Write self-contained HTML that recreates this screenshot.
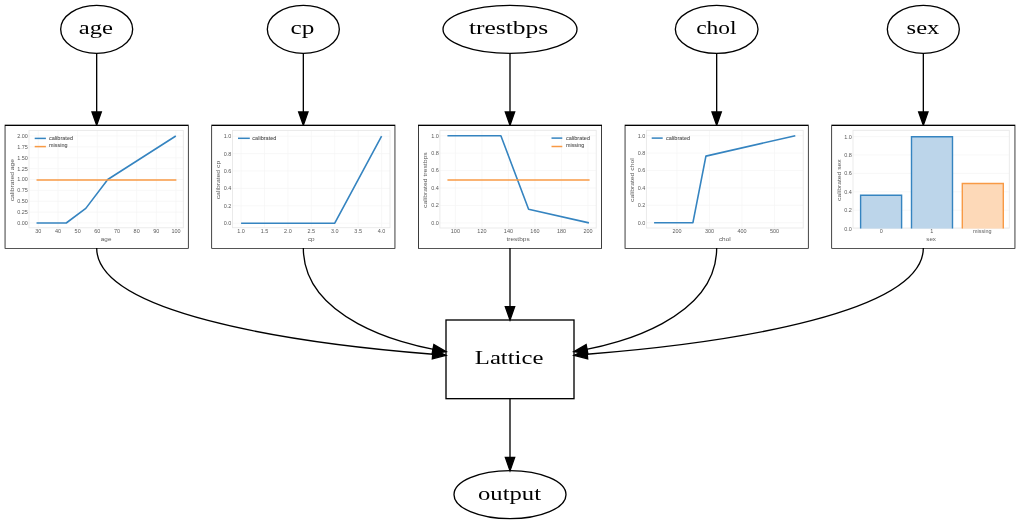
<!DOCTYPE html>
<html><head><meta charset="utf-8"><style>
html,body{margin:0;padding:0;background:#fff;}
svg{display:block;will-change:transform;}
text{font-family:"Liberation Serif",serif;}
.c text{font-family:"Liberation Sans",sans-serif;}
</style></head><body>
<svg width="1020" height="524" viewBox="0 0 1020 524">
<defs><filter id="bl" x="-5%" y="-5%" width="110%" height="110%"><feGaussianBlur stdDeviation="0.3"/></filter></defs>
<rect width="1020" height="524" fill="#fff"/>
<ellipse cx="96.67" cy="29.33" rx="36.00" ry="24.00" fill="none" stroke="#000" stroke-width="1.33"/>
<ellipse cx="303.33" cy="29.33" rx="36.00" ry="24.00" fill="none" stroke="#000" stroke-width="1.33"/>
<ellipse cx="510.00" cy="29.33" rx="67.00" ry="24.00" fill="none" stroke="#000" stroke-width="1.33"/>
<ellipse cx="716.67" cy="29.33" rx="41.33" ry="24.00" fill="none" stroke="#000" stroke-width="1.33"/>
<ellipse cx="923.33" cy="29.33" rx="36.00" ry="24.00" fill="none" stroke="#000" stroke-width="1.33"/>
<path d="M96.67,53.33L96.67,112.00" stroke="#000" stroke-width="1.33" fill="none"/><polygon points="92.00,112.00 96.67,125.33 101.33,112.00" fill="#000" stroke="#000" stroke-width="1.33"/>
<path d="M303.33,53.33L303.33,112.00" stroke="#000" stroke-width="1.33" fill="none"/><polygon points="298.67,112.00 303.33,125.33 308.00,112.00" fill="#000" stroke="#000" stroke-width="1.33"/>
<path d="M510.00,53.33L510.00,112.00" stroke="#000" stroke-width="1.33" fill="none"/><polygon points="505.33,112.00 510.00,125.33 514.67,112.00" fill="#000" stroke="#000" stroke-width="1.33"/>
<path d="M716.67,53.33L716.67,112.00" stroke="#000" stroke-width="1.33" fill="none"/><polygon points="712.00,112.00 716.67,125.33 721.33,112.00" fill="#000" stroke="#000" stroke-width="1.33"/>
<path d="M923.33,53.33L923.33,112.00" stroke="#000" stroke-width="1.33" fill="none"/><polygon points="918.67,112.00 923.33,125.33 928.00,112.00" fill="#000" stroke="#000" stroke-width="1.33"/>
<rect x="5.33" y="125.33" width="182.67" height="122.67" fill="none" stroke="#000" stroke-width="1.33"/>
<rect x="5.43" y="126.00" width="182.47" height="122.00" fill="#fff"/>
<rect x="212.00" y="125.33" width="182.67" height="122.67" fill="none" stroke="#000" stroke-width="1.33"/>
<rect x="212.10" y="126.00" width="182.47" height="122.00" fill="#fff"/>
<rect x="418.67" y="125.33" width="182.67" height="122.67" fill="none" stroke="#000" stroke-width="1.33"/>
<rect x="418.77" y="126.00" width="182.47" height="122.00" fill="#fff"/>
<rect x="625.33" y="125.33" width="182.67" height="122.67" fill="none" stroke="#000" stroke-width="1.33"/>
<rect x="625.43" y="126.00" width="182.47" height="122.00" fill="#fff"/>
<rect x="832.00" y="125.33" width="182.67" height="122.67" fill="none" stroke="#000" stroke-width="1.33"/>
<rect x="832.10" y="126.00" width="182.47" height="122.00" fill="#fff"/>
<rect x="446.00" y="320.00" width="128.00" height="78.67" fill="none" stroke="#000" stroke-width="1.33"/>
<path d="M510.00,248.00L510.00,306.67" stroke="#000" stroke-width="1.33" fill="none"/><polygon points="505.33,306.67 510.00,320.00 514.67,306.67" fill="#000" stroke="#000" stroke-width="1.33"/>
<path d="M510.00,398.67L510.00,457.33" stroke="#000" stroke-width="1.33" fill="none"/><polygon points="505.33,457.33 510.00,470.67 514.67,457.33" fill="#000" stroke="#000" stroke-width="1.33"/>
<ellipse cx="510" cy="494.67" rx="56.00" ry="24.00" fill="none" stroke="#000" stroke-width="1.33"/>
<path d="M96.67,248.00C96.67,311.43 281.23,342.23 433.20,354.23" stroke="#000" stroke-width="1.33" fill="none"/><polygon points="432.32,358.84 446.00,355.30 433.10,349.54" fill="#000" stroke="#000" stroke-width="1.33"/>
<path d="M303.33,248.00C303.33,319.44 405.15,344.30 433.60,349.32" stroke="#000" stroke-width="1.33" fill="none"/><polygon points="432.13,353.79 446.10,351.70 433.87,344.62" fill="#000" stroke="#000" stroke-width="1.33"/>
<path d="M716.67,248.00C716.67,319.44 614.85,344.30 586.40,349.32" stroke="#000" stroke-width="1.33" fill="none"/><polygon points="586.13,344.62 573.90,351.70 587.87,353.79" fill="#000" stroke="#000" stroke-width="1.33"/>
<path d="M923.33,248.00C923.33,311.43 738.77,342.23 586.80,354.23" stroke="#000" stroke-width="1.33" fill="none"/><polygon points="586.90,349.54 574.00,355.30 587.68,358.84" fill="#000" stroke="#000" stroke-width="1.33"/>
<text x="78.80" y="33.70" font-family="Liberation Serif" font-size="19.5" textLength="34.20" lengthAdjust="spacingAndGlyphs">age</text>
<text x="290.60" y="33.70" font-family="Liberation Serif" font-size="19.5" textLength="23.80" lengthAdjust="spacingAndGlyphs">cp</text>
<text x="469.00" y="33.70" font-family="Liberation Serif" font-size="19.5" textLength="79.20" lengthAdjust="spacingAndGlyphs">trestbps</text>
<text x="696.20" y="33.70" font-family="Liberation Serif" font-size="19.5" textLength="40.40" lengthAdjust="spacingAndGlyphs">chol</text>
<text x="906.60" y="33.70" font-family="Liberation Serif" font-size="19.5" textLength="32.80" lengthAdjust="spacingAndGlyphs">sex</text>
<text x="474.80" y="363.70" font-family="Liberation Serif" font-size="19.5" textLength="68.60" lengthAdjust="spacingAndGlyphs">Lattice</text>
<text x="478.00" y="500.10" font-family="Liberation Serif" font-size="19.5" textLength="63.00" lengthAdjust="spacingAndGlyphs">output</text>
<g class="c" filter="url(#bl)">
<line x1="38.30" y1="130.40" x2="38.30" y2="227.80" stroke="#f5f5f5" stroke-width="0.7"/>
<line x1="57.97" y1="130.40" x2="57.97" y2="227.80" stroke="#f5f5f5" stroke-width="0.7"/>
<line x1="77.64" y1="130.40" x2="77.64" y2="227.80" stroke="#f5f5f5" stroke-width="0.7"/>
<line x1="97.31" y1="130.40" x2="97.31" y2="227.80" stroke="#f5f5f5" stroke-width="0.7"/>
<line x1="116.99" y1="130.40" x2="116.99" y2="227.80" stroke="#f5f5f5" stroke-width="0.7"/>
<line x1="136.66" y1="130.40" x2="136.66" y2="227.80" stroke="#f5f5f5" stroke-width="0.7"/>
<line x1="156.33" y1="130.40" x2="156.33" y2="227.80" stroke="#f5f5f5" stroke-width="0.7"/>
<line x1="176.00" y1="130.40" x2="176.00" y2="227.80" stroke="#f5f5f5" stroke-width="0.7"/>
<line x1="29.00" y1="223.00" x2="183.30" y2="223.00" stroke="#f5f5f5" stroke-width="0.7"/>
<line x1="29.00" y1="212.12" x2="183.30" y2="212.12" stroke="#f5f5f5" stroke-width="0.7"/>
<line x1="29.00" y1="201.25" x2="183.30" y2="201.25" stroke="#f5f5f5" stroke-width="0.7"/>
<line x1="29.00" y1="190.38" x2="183.30" y2="190.38" stroke="#f5f5f5" stroke-width="0.7"/>
<line x1="29.00" y1="179.50" x2="183.30" y2="179.50" stroke="#f5f5f5" stroke-width="0.7"/>
<line x1="29.00" y1="168.62" x2="183.30" y2="168.62" stroke="#f5f5f5" stroke-width="0.7"/>
<line x1="29.00" y1="157.75" x2="183.30" y2="157.75" stroke="#f5f5f5" stroke-width="0.7"/>
<line x1="29.00" y1="146.88" x2="183.30" y2="146.88" stroke="#f5f5f5" stroke-width="0.7"/>
<line x1="29.00" y1="136.00" x2="183.30" y2="136.00" stroke="#f5f5f5" stroke-width="0.7"/>
<rect x="29.00" y="130.40" width="154.30" height="97.40" fill="none" stroke="#e8e8e8" stroke-width="0.9"/>
<polyline points="36.53,223.00 66.23,223.00 85.81,208.38 107.74,179.50 175.80,136.00" fill="none" stroke="#3584c0" stroke-width="1.6" stroke-linejoin="round"/>
<polyline points="36.53,179.94 176.39,179.94" fill="none" stroke="#f89a45" stroke-width="1.6" stroke-linejoin="round"/>
<text x="35.25" y="232.80" font-size="5.0" fill="#5a5a5a" textLength="6.11" lengthAdjust="spacingAndGlyphs">30</text>
<text x="54.92" y="232.80" font-size="5.0" fill="#5a5a5a" textLength="6.11" lengthAdjust="spacingAndGlyphs">40</text>
<text x="74.59" y="232.80" font-size="5.0" fill="#5a5a5a" textLength="6.11" lengthAdjust="spacingAndGlyphs">50</text>
<text x="94.26" y="232.80" font-size="5.0" fill="#5a5a5a" textLength="6.11" lengthAdjust="spacingAndGlyphs">60</text>
<text x="113.93" y="232.80" font-size="5.0" fill="#5a5a5a" textLength="6.11" lengthAdjust="spacingAndGlyphs">70</text>
<text x="133.60" y="232.80" font-size="5.0" fill="#5a5a5a" textLength="6.11" lengthAdjust="spacingAndGlyphs">80</text>
<text x="153.27" y="232.80" font-size="5.0" fill="#5a5a5a" textLength="6.11" lengthAdjust="spacingAndGlyphs">90</text>
<text x="171.42" y="232.80" font-size="5.0" fill="#5a5a5a" textLength="9.16" lengthAdjust="spacingAndGlyphs">100</text>
<text x="17.21" y="224.90" font-size="5.0" fill="#5a5a5a" textLength="10.69" lengthAdjust="spacingAndGlyphs">0.00</text>
<text x="17.21" y="214.03" font-size="5.0" fill="#5a5a5a" textLength="10.69" lengthAdjust="spacingAndGlyphs">0.25</text>
<text x="17.21" y="203.15" font-size="5.0" fill="#5a5a5a" textLength="10.69" lengthAdjust="spacingAndGlyphs">0.50</text>
<text x="17.21" y="192.28" font-size="5.0" fill="#5a5a5a" textLength="10.69" lengthAdjust="spacingAndGlyphs">0.75</text>
<text x="17.21" y="181.40" font-size="5.0" fill="#5a5a5a" textLength="10.69" lengthAdjust="spacingAndGlyphs">1.00</text>
<text x="17.21" y="170.53" font-size="5.0" fill="#5a5a5a" textLength="10.69" lengthAdjust="spacingAndGlyphs">1.25</text>
<text x="17.21" y="159.65" font-size="5.0" fill="#5a5a5a" textLength="10.69" lengthAdjust="spacingAndGlyphs">1.50</text>
<text x="17.21" y="148.78" font-size="5.0" fill="#5a5a5a" textLength="10.69" lengthAdjust="spacingAndGlyphs">1.75</text>
<text x="17.21" y="137.90" font-size="5.0" fill="#5a5a5a" textLength="10.69" lengthAdjust="spacingAndGlyphs">2.00</text>
<line x1="34.70" y1="138.40" x2="45.90" y2="138.40" stroke="#3584c0" stroke-width="1.5"/>
<text x="49.00" y="139.90" font-size="5.0" fill="#4a4a4a" textLength="24.09" lengthAdjust="spacingAndGlyphs" stroke="#4a4a4a" stroke-width="0.05">calibrated</text>
<line x1="34.70" y1="146.60" x2="45.90" y2="146.60" stroke="#f89a45" stroke-width="1.5"/>
<text x="49.00" y="147.00" font-size="5.0" fill="#4a4a4a" textLength="18.43" lengthAdjust="spacingAndGlyphs" stroke="#4a4a4a" stroke-width="0.05">missing</text>
<text x="100.87" y="241.10" font-size="6.1" fill="#5a5a5a" textLength="10.55" lengthAdjust="spacingAndGlyphs">age</text>
<g transform="translate(14.00,180.10) rotate(-90)"><text x="-21.24" y="0.00" font-size="6.1" fill="#5a5a5a" textLength="42.48" lengthAdjust="spacingAndGlyphs">calibrated age</text></g>
</g>
<g class="c" filter="url(#bl)">
<line x1="241.10" y1="130.40" x2="241.10" y2="227.70" stroke="#f5f5f5" stroke-width="0.7"/>
<line x1="264.52" y1="130.40" x2="264.52" y2="227.70" stroke="#f5f5f5" stroke-width="0.7"/>
<line x1="287.93" y1="130.40" x2="287.93" y2="227.70" stroke="#f5f5f5" stroke-width="0.7"/>
<line x1="311.35" y1="130.40" x2="311.35" y2="227.70" stroke="#f5f5f5" stroke-width="0.7"/>
<line x1="334.77" y1="130.40" x2="334.77" y2="227.70" stroke="#f5f5f5" stroke-width="0.7"/>
<line x1="358.18" y1="130.40" x2="358.18" y2="227.70" stroke="#f5f5f5" stroke-width="0.7"/>
<line x1="381.60" y1="130.40" x2="381.60" y2="227.70" stroke="#f5f5f5" stroke-width="0.7"/>
<line x1="232.50" y1="223.20" x2="390.00" y2="223.20" stroke="#f5f5f5" stroke-width="0.7"/>
<line x1="232.50" y1="205.80" x2="390.00" y2="205.80" stroke="#f5f5f5" stroke-width="0.7"/>
<line x1="232.50" y1="188.40" x2="390.00" y2="188.40" stroke="#f5f5f5" stroke-width="0.7"/>
<line x1="232.50" y1="171.00" x2="390.00" y2="171.00" stroke="#f5f5f5" stroke-width="0.7"/>
<line x1="232.50" y1="153.60" x2="390.00" y2="153.60" stroke="#f5f5f5" stroke-width="0.7"/>
<line x1="232.50" y1="136.20" x2="390.00" y2="136.20" stroke="#f5f5f5" stroke-width="0.7"/>
<rect x="232.50" y="130.40" width="157.50" height="97.30" fill="none" stroke="#e8e8e8" stroke-width="0.9"/>
<polyline points="241.10,223.20 334.77,223.20 381.60,136.20" fill="none" stroke="#3584c0" stroke-width="1.6" stroke-linejoin="round"/>
<text x="237.28" y="232.70" font-size="5.0" fill="#5a5a5a" textLength="7.63" lengthAdjust="spacingAndGlyphs">1.0</text>
<text x="260.70" y="232.70" font-size="5.0" fill="#5a5a5a" textLength="7.63" lengthAdjust="spacingAndGlyphs">1.5</text>
<text x="284.12" y="232.70" font-size="5.0" fill="#5a5a5a" textLength="7.63" lengthAdjust="spacingAndGlyphs">2.0</text>
<text x="307.53" y="232.70" font-size="5.0" fill="#5a5a5a" textLength="7.63" lengthAdjust="spacingAndGlyphs">2.5</text>
<text x="330.95" y="232.70" font-size="5.0" fill="#5a5a5a" textLength="7.63" lengthAdjust="spacingAndGlyphs">3.0</text>
<text x="354.37" y="232.70" font-size="5.0" fill="#5a5a5a" textLength="7.63" lengthAdjust="spacingAndGlyphs">3.5</text>
<text x="377.78" y="232.70" font-size="5.0" fill="#5a5a5a" textLength="7.63" lengthAdjust="spacingAndGlyphs">4.0</text>
<text x="223.77" y="225.10" font-size="5.0" fill="#5a5a5a" textLength="7.63" lengthAdjust="spacingAndGlyphs">0.0</text>
<text x="223.77" y="207.70" font-size="5.0" fill="#5a5a5a" textLength="7.63" lengthAdjust="spacingAndGlyphs">0.2</text>
<text x="223.77" y="190.30" font-size="5.0" fill="#5a5a5a" textLength="7.63" lengthAdjust="spacingAndGlyphs">0.4</text>
<text x="223.77" y="172.90" font-size="5.0" fill="#5a5a5a" textLength="7.63" lengthAdjust="spacingAndGlyphs">0.6</text>
<text x="223.77" y="155.50" font-size="5.0" fill="#5a5a5a" textLength="7.63" lengthAdjust="spacingAndGlyphs">0.8</text>
<text x="223.77" y="138.10" font-size="5.0" fill="#5a5a5a" textLength="7.63" lengthAdjust="spacingAndGlyphs">1.0</text>
<line x1="238.00" y1="138.30" x2="249.80" y2="138.30" stroke="#3584c0" stroke-width="1.5"/>
<text x="252.30" y="139.80" font-size="5.0" fill="#4a4a4a" textLength="24.09" lengthAdjust="spacingAndGlyphs" stroke="#4a4a4a" stroke-width="0.05">calibrated</text>
<text x="307.90" y="241.00" font-size="6.1" fill="#5a5a5a" textLength="6.71" lengthAdjust="spacingAndGlyphs">cp</text>
<g transform="translate(220.00,180.05) rotate(-90)"><text x="-19.24" y="0.00" font-size="6.1" fill="#5a5a5a" textLength="38.48" lengthAdjust="spacingAndGlyphs">calibrated cp</text></g>
</g>
<g class="c" filter="url(#bl)">
<line x1="455.40" y1="130.30" x2="455.40" y2="228.00" stroke="#f5f5f5" stroke-width="0.7"/>
<line x1="481.92" y1="130.30" x2="481.92" y2="228.00" stroke="#f5f5f5" stroke-width="0.7"/>
<line x1="508.44" y1="130.30" x2="508.44" y2="228.00" stroke="#f5f5f5" stroke-width="0.7"/>
<line x1="534.96" y1="130.30" x2="534.96" y2="228.00" stroke="#f5f5f5" stroke-width="0.7"/>
<line x1="561.48" y1="130.30" x2="561.48" y2="228.00" stroke="#f5f5f5" stroke-width="0.7"/>
<line x1="588.00" y1="130.30" x2="588.00" y2="228.00" stroke="#f5f5f5" stroke-width="0.7"/>
<line x1="439.90" y1="222.90" x2="596.20" y2="222.90" stroke="#f5f5f5" stroke-width="0.7"/>
<line x1="439.90" y1="205.46" x2="596.20" y2="205.46" stroke="#f5f5f5" stroke-width="0.7"/>
<line x1="439.90" y1="188.02" x2="596.20" y2="188.02" stroke="#f5f5f5" stroke-width="0.7"/>
<line x1="439.90" y1="170.58" x2="596.20" y2="170.58" stroke="#f5f5f5" stroke-width="0.7"/>
<line x1="439.90" y1="153.14" x2="596.20" y2="153.14" stroke="#f5f5f5" stroke-width="0.7"/>
<line x1="439.90" y1="135.70" x2="596.20" y2="135.70" stroke="#f5f5f5" stroke-width="0.7"/>
<rect x="439.90" y="130.30" width="156.30" height="97.70" fill="none" stroke="#e8e8e8" stroke-width="0.9"/>
<polyline points="447.44,135.70 500.88,135.70 528.60,209.21 588.93,222.90" fill="none" stroke="#3584c0" stroke-width="1.6" stroke-linejoin="round"/>
<polyline points="447.44,180.00 589.59,180.00" fill="none" stroke="#f89a45" stroke-width="1.6" stroke-linejoin="round"/>
<text x="450.82" y="233.00" font-size="5.0" fill="#5a5a5a" textLength="9.16" lengthAdjust="spacingAndGlyphs">100</text>
<text x="477.34" y="233.00" font-size="5.0" fill="#5a5a5a" textLength="9.16" lengthAdjust="spacingAndGlyphs">120</text>
<text x="503.86" y="233.00" font-size="5.0" fill="#5a5a5a" textLength="9.16" lengthAdjust="spacingAndGlyphs">140</text>
<text x="530.38" y="233.00" font-size="5.0" fill="#5a5a5a" textLength="9.16" lengthAdjust="spacingAndGlyphs">160</text>
<text x="556.90" y="233.00" font-size="5.0" fill="#5a5a5a" textLength="9.16" lengthAdjust="spacingAndGlyphs">180</text>
<text x="583.42" y="233.00" font-size="5.0" fill="#5a5a5a" textLength="9.16" lengthAdjust="spacingAndGlyphs">200</text>
<text x="431.17" y="224.80" font-size="5.0" fill="#5a5a5a" textLength="7.63" lengthAdjust="spacingAndGlyphs">0.0</text>
<text x="431.17" y="207.36" font-size="5.0" fill="#5a5a5a" textLength="7.63" lengthAdjust="spacingAndGlyphs">0.2</text>
<text x="431.17" y="189.92" font-size="5.0" fill="#5a5a5a" textLength="7.63" lengthAdjust="spacingAndGlyphs">0.4</text>
<text x="431.17" y="172.48" font-size="5.0" fill="#5a5a5a" textLength="7.63" lengthAdjust="spacingAndGlyphs">0.6</text>
<text x="431.17" y="155.04" font-size="5.0" fill="#5a5a5a" textLength="7.63" lengthAdjust="spacingAndGlyphs">0.8</text>
<text x="431.17" y="137.60" font-size="5.0" fill="#5a5a5a" textLength="7.63" lengthAdjust="spacingAndGlyphs">1.0</text>
<line x1="551.50" y1="138.10" x2="562.30" y2="138.10" stroke="#3584c0" stroke-width="1.5"/>
<text x="565.90" y="139.60" font-size="5.0" fill="#4a4a4a" textLength="24.09" lengthAdjust="spacingAndGlyphs" stroke="#4a4a4a" stroke-width="0.05">calibrated</text>
<line x1="551.50" y1="146.50" x2="562.30" y2="146.50" stroke="#f89a45" stroke-width="1.5"/>
<text x="565.90" y="146.90" font-size="5.0" fill="#4a4a4a" textLength="18.43" lengthAdjust="spacingAndGlyphs" stroke="#4a4a4a" stroke-width="0.05">missing</text>
<text x="506.44" y="241.30" font-size="6.1" fill="#5a5a5a" textLength="23.22" lengthAdjust="spacingAndGlyphs">trestbps</text>
<g transform="translate(427.00,180.15) rotate(-90)"><text x="-27.84" y="0.00" font-size="6.1" fill="#5a5a5a" textLength="55.68" lengthAdjust="spacingAndGlyphs">calibrated trestbps</text></g>
</g>
<g class="c" filter="url(#bl)">
<line x1="677.00" y1="130.30" x2="677.00" y2="228.00" stroke="#f5f5f5" stroke-width="0.7"/>
<line x1="709.50" y1="130.30" x2="709.50" y2="228.00" stroke="#f5f5f5" stroke-width="0.7"/>
<line x1="742.00" y1="130.30" x2="742.00" y2="228.00" stroke="#f5f5f5" stroke-width="0.7"/>
<line x1="774.50" y1="130.30" x2="774.50" y2="228.00" stroke="#f5f5f5" stroke-width="0.7"/>
<line x1="646.40" y1="222.70" x2="803.20" y2="222.70" stroke="#f5f5f5" stroke-width="0.7"/>
<line x1="646.40" y1="205.30" x2="803.20" y2="205.30" stroke="#f5f5f5" stroke-width="0.7"/>
<line x1="646.40" y1="187.90" x2="803.20" y2="187.90" stroke="#f5f5f5" stroke-width="0.7"/>
<line x1="646.40" y1="170.50" x2="803.20" y2="170.50" stroke="#f5f5f5" stroke-width="0.7"/>
<line x1="646.40" y1="153.10" x2="803.20" y2="153.10" stroke="#f5f5f5" stroke-width="0.7"/>
<line x1="646.40" y1="135.70" x2="803.20" y2="135.70" stroke="#f5f5f5" stroke-width="0.7"/>
<rect x="646.40" y="130.30" width="156.80" height="97.70" fill="none" stroke="#e8e8e8" stroke-width="0.9"/>
<polyline points="654.09,222.70 692.92,222.70 705.92,156.14 795.30,135.70" fill="none" stroke="#3584c0" stroke-width="1.6" stroke-linejoin="round"/>
<text x="672.42" y="233.00" font-size="5.0" fill="#5a5a5a" textLength="9.16" lengthAdjust="spacingAndGlyphs">200</text>
<text x="704.92" y="233.00" font-size="5.0" fill="#5a5a5a" textLength="9.16" lengthAdjust="spacingAndGlyphs">300</text>
<text x="737.42" y="233.00" font-size="5.0" fill="#5a5a5a" textLength="9.16" lengthAdjust="spacingAndGlyphs">400</text>
<text x="769.92" y="233.00" font-size="5.0" fill="#5a5a5a" textLength="9.16" lengthAdjust="spacingAndGlyphs">500</text>
<text x="637.67" y="224.60" font-size="5.0" fill="#5a5a5a" textLength="7.63" lengthAdjust="spacingAndGlyphs">0.0</text>
<text x="637.67" y="207.20" font-size="5.0" fill="#5a5a5a" textLength="7.63" lengthAdjust="spacingAndGlyphs">0.2</text>
<text x="637.67" y="189.80" font-size="5.0" fill="#5a5a5a" textLength="7.63" lengthAdjust="spacingAndGlyphs">0.4</text>
<text x="637.67" y="172.40" font-size="5.0" fill="#5a5a5a" textLength="7.63" lengthAdjust="spacingAndGlyphs">0.6</text>
<text x="637.67" y="155.00" font-size="5.0" fill="#5a5a5a" textLength="7.63" lengthAdjust="spacingAndGlyphs">0.8</text>
<text x="637.67" y="137.60" font-size="5.0" fill="#5a5a5a" textLength="7.63" lengthAdjust="spacingAndGlyphs">1.0</text>
<line x1="651.70" y1="138.10" x2="662.70" y2="138.10" stroke="#3584c0" stroke-width="1.5"/>
<text x="666.00" y="139.60" font-size="5.0" fill="#4a4a4a" textLength="24.09" lengthAdjust="spacingAndGlyphs" stroke="#4a4a4a" stroke-width="0.05">calibrated</text>
<text x="718.93" y="241.30" font-size="6.1" fill="#5a5a5a" textLength="11.74" lengthAdjust="spacingAndGlyphs">chol</text>
<g transform="translate(634.00,180.15) rotate(-90)"><text x="-21.86" y="0.00" font-size="6.1" fill="#5a5a5a" textLength="43.72" lengthAdjust="spacingAndGlyphs">calibrated chol</text></g>
</g>
<g class="c" filter="url(#bl)">
<line x1="853.00" y1="228.60" x2="1009.30" y2="228.60" stroke="#f5f5f5" stroke-width="0.7"/>
<line x1="853.00" y1="210.20" x2="1009.30" y2="210.20" stroke="#f5f5f5" stroke-width="0.7"/>
<line x1="853.00" y1="191.80" x2="1009.30" y2="191.80" stroke="#f5f5f5" stroke-width="0.7"/>
<line x1="853.00" y1="173.40" x2="1009.30" y2="173.40" stroke="#f5f5f5" stroke-width="0.7"/>
<line x1="853.00" y1="155.00" x2="1009.30" y2="155.00" stroke="#f5f5f5" stroke-width="0.7"/>
<line x1="853.00" y1="136.60" x2="1009.30" y2="136.60" stroke="#f5f5f5" stroke-width="0.7"/>
<rect x="853.00" y="130.30" width="156.30" height="97.70" fill="none" stroke="#e8e8e8" stroke-width="0.9"/>
<rect x="860.60" y="195.30" width="41.00" height="33.30" fill="#bcd5ea"/>
<path d="M860.60,228.60V195.30H901.60V228.60" fill="none" stroke="#3584c0" stroke-width="1.4"/>
<rect x="911.50" y="136.78" width="41.00" height="91.82" fill="#bcd5ea"/>
<path d="M911.50,228.60V136.78H952.50V228.60" fill="none" stroke="#3584c0" stroke-width="1.4"/>
<rect x="962.30" y="183.52" width="41.00" height="45.08" fill="#fdd9b8"/>
<path d="M962.30,228.60V183.52H1003.30V228.60" fill="none" stroke="#f89a45" stroke-width="1.4"/>
<text x="879.77" y="232.80" font-size="5.0" fill="#5a5a5a" textLength="3.05" lengthAdjust="spacingAndGlyphs">0</text>
<text x="930.17" y="232.80" font-size="5.0" fill="#5a5a5a" textLength="3.05" lengthAdjust="spacingAndGlyphs">1</text>
<text x="973.08" y="232.80" font-size="5.0" fill="#5a5a5a" textLength="18.43" lengthAdjust="spacingAndGlyphs">missing</text>
<text x="844.27" y="230.50" font-size="5.0" fill="#5a5a5a" textLength="7.63" lengthAdjust="spacingAndGlyphs">0.0</text>
<text x="844.27" y="212.10" font-size="5.0" fill="#5a5a5a" textLength="7.63" lengthAdjust="spacingAndGlyphs">0.2</text>
<text x="844.27" y="193.70" font-size="5.0" fill="#5a5a5a" textLength="7.63" lengthAdjust="spacingAndGlyphs">0.4</text>
<text x="844.27" y="175.30" font-size="5.0" fill="#5a5a5a" textLength="7.63" lengthAdjust="spacingAndGlyphs">0.6</text>
<text x="844.27" y="156.90" font-size="5.0" fill="#5a5a5a" textLength="7.63" lengthAdjust="spacingAndGlyphs">0.8</text>
<text x="844.27" y="138.50" font-size="5.0" fill="#5a5a5a" textLength="7.63" lengthAdjust="spacingAndGlyphs">1.0</text>
<text x="926.31" y="241.30" font-size="6.1" fill="#5a5a5a" textLength="9.69" lengthAdjust="spacingAndGlyphs">sex</text>
<g transform="translate(840.50,180.15) rotate(-90)"><text x="-20.79" y="0.00" font-size="6.1" fill="#5a5a5a" textLength="41.58" lengthAdjust="spacingAndGlyphs">calibrated sex</text></g>
</g>
</svg></body></html>
